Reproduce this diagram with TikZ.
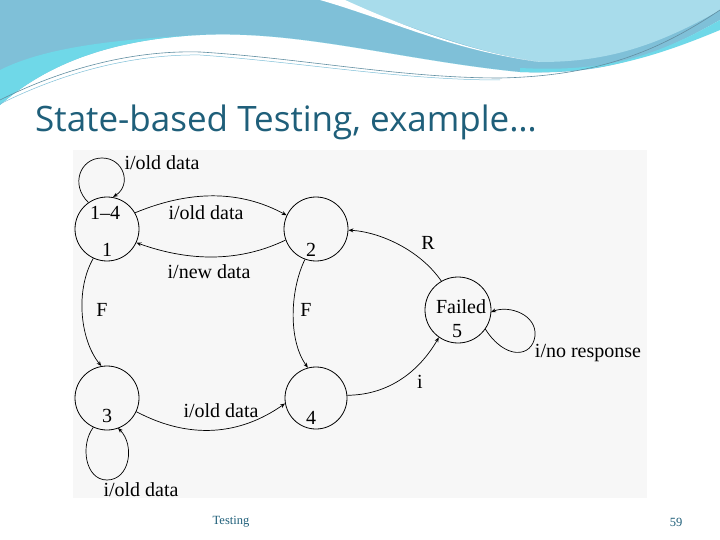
\documentclass[tikz,border=0pt]{standalone}
\usepackage{fontspec}
\setmainfont{Liberation Serif}
\newfontfamily\titlefont{Open Sans}
\usetikzlibrary{arrows.meta}
\definecolor{teal1}{HTML}{1F5F7A}
\definecolor{wave1}{HTML}{7FC0D8}
\definecolor{wave2}{HTML}{6FD8E8}
\definecolor{wave3}{HTML}{A8DCEB}
\begin{document}
\begin{tikzpicture}[x=1pt,y=-1pt,
  st/.style={circle,draw,line width=0.8pt,minimum size=64pt,inner sep=0pt},
  lbl/.style={font=\fontsize{20}{22}\selectfont,inner sep=1pt},
  ed/.style={line width=0.7pt,-{Stealth[length=5pt,width=4pt,open]}}]
\useasboundingbox (0,0) rectangle (720,540);
\fill[white] (0,0) rectangle (720,540);
% header waves
\fill[wave1] (0,0) -- (720,0) -- (720,20) .. controls (650,60) and (600,75) .. (520,72) .. controls (400,60) and (300,30) .. (200,35) .. controls (100,40) and (40,70) .. (0,105) -- cycle;
\fill[wave2] (0,70) .. controls (40,50) and (100,40) .. (200,35) .. controls (300,30) and (400,60) .. (520,72) .. controls (600,75) and (660,55) .. (720,30) -- (720,20) .. controls (650,60) and (600,72) .. (520,68) -- (520,72) .. controls (400,60) and (300,30) .. (200,35) .. controls (100,40) and (40,70) .. (0,105) -- cycle;
\fill[wave3] (330,0) -- (720,0) -- (720,10) .. controls (650,50) and (600,62) .. (540,62) .. controls (460,50) and (400,20) .. (330,0) -- cycle;
\fill[white] (320,0) .. controls (390,20) and (450,50) .. (540,62) .. controls (470,52) and (400,25) .. (345,0) -- cycle;
\fill[white] (0,110) .. controls (40,75) and (100,48) .. (200,52) .. controls (300,55) and (400,70) .. (520,75) .. controls (600,78) and (660,60) .. (720,40) -- (720,540) -- (0,540) -- cycle;
\draw[teal1!70,line width=0.6pt] (0,100) .. controls (60,70) and (130,50) .. (200,52) .. controls (300,58) and (400,78) .. (500,78) .. controls (600,76) and (660,50) .. (720,10);
\draw[wave1,line width=0.5pt] (0,104) .. controls (60,74) and (130,54) .. (200,55) .. controls (300,62) and (400,80) .. (500,80);
% title
\node[anchor=west,text=teal1,font=\titlefont\fontsize{35}{38}\selectfont,inner sep=0pt] (title) at (35,122) {State-based Testing, example…};
% diagram panel
\fill[black!3] (73,150) rectangle (647,498);
\node[st] (n1) at (107,229) {};
\node[st] (n2) at (316,229) {};
\node[st] (n3) at (107,398) {};
\node[st,minimum size=62pt] (n4) at (316,398) {};
\node[st,minimum size=66pt] (n5) at (458,310) {};
\node[lbl] (t14) at (105,213) {1–4};
\node[lbl] (t1) at (107,250) {1};
\node[lbl] (t2) at (311,250) {2};
\node[lbl] (t3) at (107,416) {3};
\node[lbl] (t4) at (311,418) {4};
\node[lbl] (tf) at (461,307) {Failed};
\node[lbl] (t5) at (457,331) {5};
% loops
\draw[ed] (n1.125) .. controls (70,185) and (80,158) .. (102,158) .. controls (124,158) and (132,185) .. (113,197);
\draw[ed] (n3.-115) .. controls (80,445) and (85,480) .. (107,480) .. controls (130,480) and (135,445) .. (118,428);
\draw[ed] (n5.-35) .. controls (505,360) and (532,358) .. (535,336) .. controls (537,315) and (510,305) .. (491,312);
% edges
\draw[ed] (n1.30) .. controls (190,190) and (240,190) .. (n2.155);
\draw[ed] (n2.200) .. controls (240,262) and (190,262) .. (n1.-25);
\draw[ed] (n1.-115) .. controls (75,290) and (80,340) .. (n3.100);
\draw[ed] (n2.-110) .. controls (290,290) and (288,340) .. (n4.105);
\draw[ed] (n3.-25) .. controls (190,440) and (240,435) .. (n4.190);
\draw[ed] (n4.5) .. controls (390,395) and (420,370) .. (n5.-125);
\draw[ed] (n5.120) .. controls (420,250) and (380,232) .. (n2.-2);
% edge labels
\node[lbl] (a1) at (162,163) {i/old data};
\node[lbl] (a2) at (206,213) {i/old data};
\node[lbl] (a3) at (209,272) {i/new data};
\node[lbl] (a4) at (428,243) {R};
\node[lbl] (a5) at (102,310) {F};
\node[lbl] (a6) at (306,310) {F};
\node[lbl] (a7) at (588,353) {i/no response};
\node[lbl] (a8) at (420,382) {i};
\node[lbl] (a9) at (221,411) {i/old data};
\node[lbl] (a10) at (141,490) {i/old data};
% footer
\node[text=teal1,font=\fontsize{12.5}{14}\selectfont] (ft) at (231,522) {Testing};
\node[text=teal1,font=\fontsize{12.5}{14}\selectfont] (pg) at (676,522) {59};
\end{tikzpicture}
\end{document}
